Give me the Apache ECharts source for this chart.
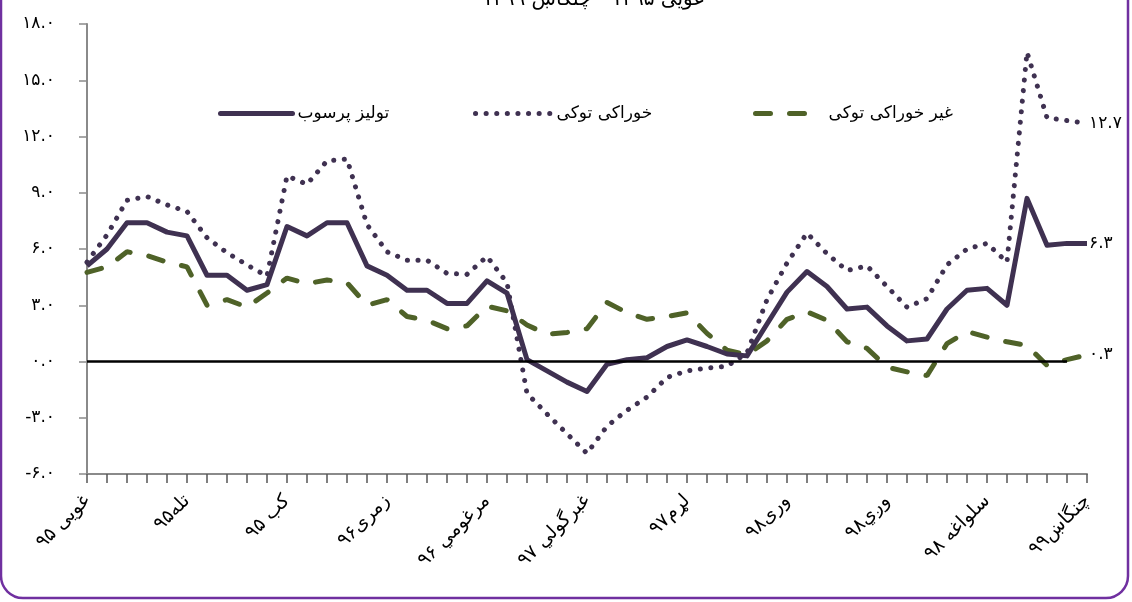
<!DOCTYPE html>
<html>
<head>
<meta charset="utf-8">
<script src="https://cdn.jsdelivr.net/npm/echarts@6/dist/echarts.min.js"></script>
<style>
  html, body { margin: 0; padding: 0; background: #fff; }
  #chart { width: 1132px; height: 602px; }
</style>
</head>
<body>
<div id="chart"></div>
<script>
// months: غویی ۹۵ ... چنګاښ ۹۹
const categories = [
  'غویی ۹۵', 'غبرګولی ۹۵', 'چنګاښ ۹۵', 'زمری ۹۵', 'وږی ۹۵', 'تله۹۵', 'لړم ۹۵', 'لیندۍ ۹۵', 'مرغومی ۹۵', 'سلواغه ۹۵',
  'کب ۹۵', 'وری ۹۶', 'غویی ۹۶', 'غبرګولی ۹۶', 'چنګاښ ۹۶', 'زمری۹۶', 'وږی ۹۶', 'تله ۹۶', 'لړم ۹۶', 'لیندۍ ۹۶',
  'مرغومي ۹۶', 'سلواغه ۹۶', 'کب ۹۶', 'وری ۹۷', 'غویی ۹۷', 'غبرگولي ۹۷', 'چنګاښ ۹۷', 'زمری ۹۷', 'وږی ۹۷', 'تله ۹۷',
  'لړم۹۷', 'لیندۍ ۹۷', 'مرغومی ۹۷', 'سلواغه ۹۷', 'کب ۹۷', 'وری۹۸', 'غویی ۹۸', 'غبرګولی ۹۸', 'چنګاښ ۹۸', 'زمری ۹۸',
  'وږي۹۸', 'تله ۹۸', 'لړم ۹۸', 'لیندۍ ۹۸', 'مرغومی ۹۸', 'سلواغه ۹۸', 'کب ۹۸', 'وری ۹۹', 'غویی ۹۹', 'غبرګولی ۹۹',
  'چنگاښ۹۹'
]

const seriesNames = ['تولیز پرسوب', 'خوراکی توکی', 'غیر خوراکی توکی']

const headline = [
  5.1, 6.0, 7.4, 7.4, 6.9, 6.7, 4.6, 4.6, 3.8, 4.1,
  7.2, 6.7, 7.4, 7.4, 5.1, 4.6, 3.8, 3.8, 3.1, 3.1,
  4.3, 3.65, 0.1, -0.5, -1.1, -1.6, -0.15, 0.1, 0.2, 0.8,
  1.15, 0.8, 0.4, 0.3, 2.0, 3.7, 4.8, 4.0, 2.8, 2.9,
  1.9, 1.1, 1.2, 2.8, 3.8, 3.9, 3.0, 8.7, 6.2, 6.3,
  6.3
]

const food = [
  5.3, 6.75, 8.6, 8.8, 8.35, 8.0, 6.6, 5.8, 5.15, 4.55,
  9.9, 9.45, 10.7, 10.8, 7.3, 5.85, 5.4, 5.4, 4.7, 4.65,
  5.6, 4.2, -1.7, -2.8, -3.85, -4.9, -3.45, -2.6, -1.9, -0.85,
  -0.5, -0.35, -0.25, 0.45, 3.3, 5.25, 6.85, 5.75, 4.85, 5.1,
  4.0, 2.9, 3.35, 5.15, 6.0, 6.3, 5.3, 16.5, 13.0, 12.85,
  12.7
]

const nonFood = [
  4.75, 5.05, 5.85, 5.65, 5.3, 5.05, 3.0, 3.3, 2.9, 3.65,
  4.45, 4.15, 4.35, 4.2, 3.0, 3.3, 2.4, 2.2, 1.75, 1.9,
  2.95, 2.7, 1.95, 1.45, 1.55, 1.75, 3.15, 2.6, 2.25, 2.4,
  2.6, 1.5, 0.6, 0.35, 1.1, 2.25, 2.65, 2.2, 1.05, 0.7,
  -0.3, -0.55, -0.75, 0.95, 1.6, 1.3, 1.05, 0.85, -0.2, 0.1,
  0.35
]

const yMin = -6
const yMax = 18
const yStep = 3

const faDigits = '۰۱۲۳۴۵۶۷۸۹'
function fa(s) {
  return String(s).replace(/\d/g, d => faDigits[d])
}

const font = 'DejaVu Sans'
const purple = '#3F3151'
const green = '#4F6228'
const chart = echarts.init(document.getElementById('chart'), null, { renderer: 'canvas' })

const endLabel = {
  show: true,
  distance: 2,
  color: '#000',
  fontFamily: font,
  fontSize: 17,
  formatter: p => fa(Number(p.value).toFixed(1))
}

const legendText = { color: '#000', fontFamily: font, fontSize: 17 }
// hide the circle the legend adds on line icons
const noSymbol = { color: 'rgba(0,0,0,0)', borderColor: 'rgba(0,0,0,0)', borderWidth: 0, opacity: 0 }

chart.setOption({
  animation: false,
  title: {
    text: 'غویی ۱۳۹۵ - چنګاښ ۱۳۹۹',
    left: 588,
    textAlign: 'center',
    top: -15,
    textStyle: { fontFamily: font, fontSize: 20, fontWeight: 'normal', color: '#000' }
  },
  graphic: [{
    type: 'rect',
    silent: true,
    z: -10,
    shape: { x: 1, y: -40, width: 1127, height: 638, r: 22 },
    style: { fill: 'none', stroke: '#7030A0', lineWidth: 2.5 }
  }],
  legend: [
    {
      data: [seriesNames[0]], left: 213, top: 100, itemWidth: 72, itemHeight: 12,
      itemStyle: noSymbol,
      lineStyle: { color: purple, width: 5, cap: 'round', type: 'solid' },
      textStyle: legendText
    },
    {
      data: [seriesNames[1]], left: 468, top: 100, itemWidth: 76, itemHeight: 12,
      itemStyle: noSymbol,
      lineStyle: { color: purple, width: 5, cap: 'round', type: [0.1, 10.5] },
      textStyle: legendText
    },
    {
      data: [seriesNames[2]], left: 748, top: 100, itemWidth: 68, itemHeight: 12,
      itemStyle: noSymbol,
      lineStyle: { color: green, width: 5, cap: 'round', type: [15, 19] },
      textStyle: legendText
    }
  ],
  grid: { left: 87, right: 45, top: 24, bottom: 128 },
  xAxis: {
    type: 'category',
    data: categories,
    boundaryGap: false,
    axisLine: { onZero: false, lineStyle: { color: '#8a8a8a', width: 2 } },
    axisTick: { show: true, interval: 0, length: 9, lineStyle: { color: '#555', width: 1.5 } },
    axisLabel: {
      interval: 4,
      rotate: 45,
      margin: 24,
      color: '#000',
      fontFamily: font,
      fontSize: 19
    },
    splitLine: { show: false }
  },
  yAxis: {
    type: 'value',
    min: yMin,
    max: yMax,
    interval: yStep,
    axisLine: { show: true, lineStyle: { color: '#8a8a8a', width: 2 } },
    axisTick: { show: true, length: 8, lineStyle: { color: '#8a8a8a', width: 1.5 } },
    splitLine: { show: false },
    axisLabel: {
      margin: 32,
      color: '#000',
      fontFamily: font,
      fontSize: 17,
      formatter: v => fa(v.toFixed(1))
    }
  },
  series: [
    {
      name: seriesNames[0],
      type: 'line',
      data: headline,
      symbol: 'none',
      z: 4,
      color: purple,
      lineStyle: { color: purple, width: 5, join: 'round' },
      endLabel: endLabel,
      markLine: {
        silent: true,
        symbol: 'none',
        label: { show: false },
        lineStyle: { color: '#000', width: 2.5, type: 'solid' },
        data: [[{ coord: [categories[0], 0] }, { coord: [categories[49], 0] }]]
      }
    },
    {
      name: seriesNames[1],
      type: 'line',
      data: food,
      symbol: 'none',
      z: 3,
      color: purple,
      lineStyle: { color: purple, width: 5, type: [0.1, 10.5], cap: 'round' },
      endLabel: endLabel
    },
    {
      name: seriesNames[2],
      type: 'line',
      data: nonFood,
      symbol: 'none',
      z: 2,
      color: green,
      lineStyle: { color: green, width: 5, type: [15, 19], cap: 'round' },
      endLabel: endLabel
    }
  ]
})
</script>
</body>
</html>
